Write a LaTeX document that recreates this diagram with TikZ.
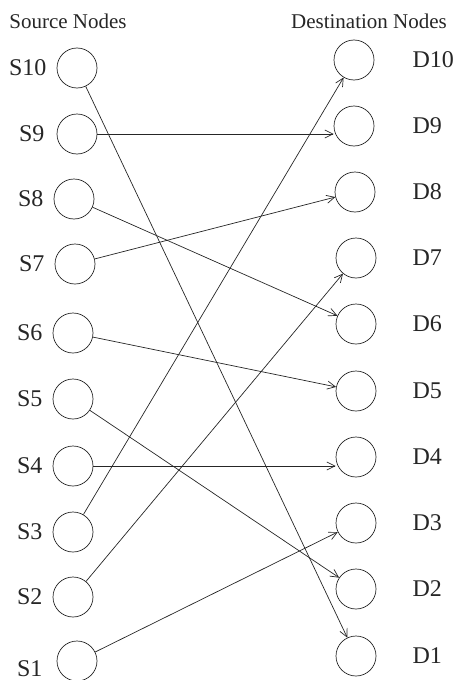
\documentclass[tikz,border=0pt]{standalone}
\usepackage{fontspec}
\setmainfont{Liberation Serif}
\usetikzlibrary{positioning,arrows.meta}
\tikzset{
    src/.style = {
        draw,
        shape=circle,
        minimum size=40pt,
        inner sep=0pt,
        line width=0.7pt
    },
    dst/.style = {
        draw,
        shape=circle,
        minimum size=40pt,
        inner sep=0pt,
        line width=0.7pt
    },
    tag/.style = {
        inner sep=0pt,
        font=\fontsize{24}{28}\selectfont
    },
    head/.style = {
        inner sep=0pt,
        font=\fontsize{21}{24}\selectfont
    },
    >={Straight Barb[length=8pt,width=8pt]},
}

\begin{document}
\begin{tikzpicture}[x=1pt,y=-1pt,color=black!85]
                \useasboundingbox (0,0) rectangle (457,680);

                \node[head] (srchead) at (68,21) {Source Nodes};
                \node[head] (dsthead) at (369,21) {Destination Nodes};

                \node[src] (s10) at (77,68) {};
                \node[src] (s9) at (77,134) {};
                \node[src] (s8) at (74,199) {};
                \node[src] (s7) at (75,264) {};
                \node[src] (s6) at (73,333) {};
                \node[src] (s5) at (73,399) {};
                \node[src] (s4) at (73,466) {};
                \node[src] (s3) at (73,532) {};
                \node[src] (s2) at (73,597) {};
                \node[src] (s1) at (77,661) {};

                \node[tag, left=10pt of s10] (ls10) {S10};
                \node[tag, left=12pt of s9] (ls9) {S9};
                \node[tag, left=10pt of s8] (ls8) {S8};
                \node[tag, left=10pt of s7] (ls7) {S7};
                \node[tag, left=10pt of s6] (ls6) {S6};
                \node[tag, left=10pt of s5] (ls5) {S5};
                \node[tag, left=10pt of s4] (ls4) {S4};
                \node[tag, left=10pt of s3] (ls3) {S3};
                \node[tag, left=10pt of s2] (ls2) {S2};
                \node[tag, left=14pt of s1, yshift=-8pt] (ls1) {S1};

                \node[dst] (d10) at (354,60) {};
                \node[dst] (d9) at (354,126) {};
                \node[dst] (d8) at (355,192) {};
                \node[dst] (d7) at (356,258) {};
                \node[dst] (d6) at (356,324) {};
                \node[dst] (d5) at (356,391) {};
                \node[dst] (d4) at (356,457) {};
                \node[dst] (d3) at (356,523) {};
                \node[dst] (d2) at (356,589) {};
                \node[dst] (d1) at (356,656) {};

                \node[tag, right=38pt of d10] (ld10) {D10};
                \node[tag, right=38pt of d9] (ld9) {D9};
                \node[tag, right=37pt of d8] (ld8) {D8};
                \node[tag, right=36pt of d7] (ld7) {D7};
                \node[tag, right=36pt of d6] (ld6) {D6};
                \node[tag, right=36pt of d5] (ld5) {D5};
                \node[tag, right=36pt of d4] (ld4) {D4};
                \node[tag, right=36pt of d3] (ld3) {D3};
                \node[tag, right=36pt of d2] (ld2) {D2};
                \node[tag, right=36pt of d1] (ld1) {D1};

                \path[draw, line width=0.7pt, ->] (s10) -- (d1);
                \path[draw, line width=0.7pt, ->] (s9) -- (s9 -| d9.west);
                \path[draw, line width=0.7pt, ->] (s8) -- (d6);
                \path[draw, line width=0.7pt, ->] (s7) -- (d8);
                \path[draw, line width=0.7pt, ->] (s6) -- (d5);
                \path[draw, line width=0.7pt, ->] (s5) -- (d2);
                \path[draw, line width=0.7pt, ->] (s4) -- (s4 -| d4.west);
                \path[draw, line width=0.7pt, ->] (s3) -- (d10);
                \path[draw, line width=0.7pt, ->] (s2) -- (d7);
                \path[draw, line width=0.7pt, ->] (s1) -- (d3);
\end{tikzpicture}
\end{document}
